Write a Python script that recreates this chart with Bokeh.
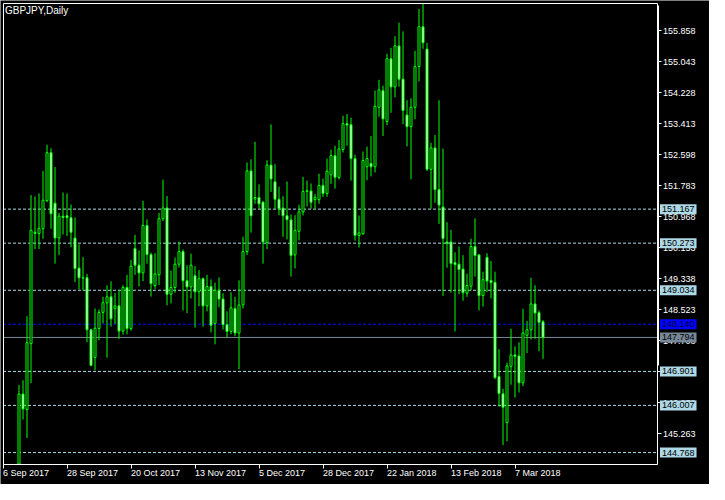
from bokeh.plotting import figure
from bokeh.models import (Range1d, FixedTicker, PrintfTickFormatter, Label,
                          LabelSet, ColumnDataSource, LinearAxis)
from bokeh.core.properties import value
from bokeh.embed import file_html
from bokeh.resources import INLINE

symbol_title = "GBPJPY,Daily"

bar_index = list(range(4, 136))
opens = [144.20, 146.306, 145.899, 147.631, 150.560, 150.524, 150.652, 151.390, 152.649, 151.324,
         150.407, 150.983, 150.993, 150.942, 150.407, 149.617, 149.363, 149.363, 147.995, 147.264,
         148.028, 148.453, 148.700, 148.861, 148.548, 148.624, 147.962, 149.108, 148.028, 150.127,
         149.694, 149.490, 150.738, 149.974, 149.159, 149.440, 150.916, 151.197, 148.930, 149.108,
         149.719, 150.050, 149.286, 149.123, 149.414, 148.996, 149.337, 148.624, 149.133, 148.165,
         149.032, 148.802, 148.130, 147.952, 148.550, 147.911, 148.649, 150.050, 152.172, 151.433,
         151.472, 151.349, 150.295, 152.325, 151.884, 151.426, 151.197, 150.993, 150.881, 149.964,
         150.585, 151.095, 151.630, 151.645, 151.416, 151.416, 151.790, 151.579, 152.070, 152.572,
         152.002, 152.732, 153.413, 153.387, 152.496, 150.473, 150.516, 152.282, 152.368, 152.282,
         153.846, 154.279, 153.471, 155.119, 154.380, 155.458, 154.584, 153.642, 153.336, 153.846,
         154.915, 155.960, 155.374, 152.215, 152.776, 151.681, 151.222, 150.305, 150.305, 149.760,
         149.719, 149.592, 148.955, 149.141, 150.185, 149.964, 148.894, 149.898, 149.294, 149.243,
         146.765, 146.314, 145.557, 147.035, 147.333, 147.307, 146.602, 147.850, 147.995, 148.675,
         148.446, 148.206]
highs = [146.543, 146.670, 148.352, 151.536, 151.503, 151.579, 152.172, 152.860, 152.766, 152.274,
         151.069, 151.604, 151.579, 151.288, 150.949, 150.244, 149.905, 149.465, 148.020, 148.555,
         148.530, 148.861, 149.167, 149.268, 148.963, 149.047, 149.167, 149.439, 149.829, 150.491,
         150.083, 151.383, 150.899, 150.025, 150.007, 151.069, 151.943, 151.510, 149.549, 149.898,
         150.313, 150.109, 149.694, 149.999, 149.668, 149.566, 149.370, 149.439, 149.319, 149.235,
         149.370, 148.955, 148.479, 148.980, 148.861, 149.294, 150.440, 152.394, 152.478, 152.936,
         151.816, 151.375, 152.452, 153.395, 152.350, 151.757, 151.510, 151.892, 151.026, 151.008,
         151.281, 152.012, 151.918, 151.841, 151.561, 152.096, 151.968, 152.496, 152.732, 152.834,
         152.987, 153.624, 153.667, 153.573, 152.597, 151.000, 152.682, 152.809, 153.089, 154.286,
         154.566, 154.414, 155.254, 155.407, 155.713, 156.069, 155.840, 154.031, 154.082, 155.331,
         156.426, 156.579, 155.534, 152.911, 153.115, 154.031, 152.758, 150.822, 150.618, 150.033,
         150.185, 149.956, 149.472, 150.389, 150.924, 149.989, 149.523, 150.007, 149.803, 149.523,
         147.485, 146.441, 147.129, 148.020, 147.562, 147.664, 148.548, 148.224, 149.363, 149.167,
         148.504, 148.250]
lows = [144.05, 145.634, 145.150, 146.594, 150.117, 150.117, 150.389, 151.350, 150.652, 149.735,
        149.964, 150.499, 150.458, 150.168, 149.251, 149.057, 149.032, 147.671, 147.035, 146.933,
        147.722, 148.165, 147.264, 148.079, 148.148, 147.758, 147.868, 147.875, 147.969, 149.439,
        149.133, 149.276, 149.735, 148.868, 149.072, 149.174, 150.855, 148.639, 148.690, 148.970,
        149.633, 148.504, 148.435, 148.818, 148.054, 148.614, 148.079, 148.479, 147.926, 147.613,
        148.588, 148.003, 147.791, 147.875, 147.824, 146.958, 148.555, 149.964, 150.550, 151.306,
        151.179, 149.735, 150.117, 151.619, 151.179, 151.008, 150.440, 150.371, 149.396, 149.607,
        150.346, 151.000, 151.238, 151.179, 151.179, 151.306, 151.484, 151.492, 151.833, 151.706,
        151.943, 152.656, 152.834, 151.917, 150.338, 150.160, 150.491, 151.925, 152.027, 152.129,
        153.598, 153.089, 153.369, 153.700, 154.108, 154.388, 153.402, 152.817, 151.951, 153.530,
        154.523, 155.382, 152.172, 151.179, 151.332, 150.779, 148.886, 149.625, 148.970, 147.952,
        148.930, 148.759, 148.861, 149.032, 149.396, 148.504, 148.606, 148.988, 148.818, 146.696,
        145.975, 144.964, 145.066, 146.551, 146.212, 146.347, 146.518, 147.384, 147.740, 147.758,
        147.434, 147.231]
closes = [146.306, 145.914, 147.656, 150.611, 150.530, 150.662, 151.401, 152.649, 151.044, 150.407,
          150.983, 150.950, 150.942, 150.560, 149.607, 149.363, 149.355, 147.995, 147.060, 148.038,
          148.453, 148.708, 148.861, 148.283, 148.624, 147.962, 149.108, 148.028, 149.668, 149.694,
          149.490, 150.738, 149.974, 149.210, 149.465, 150.916, 151.197, 148.930, 149.108, 149.719,
          150.050, 149.286, 149.123, 149.694, 148.996, 149.337, 148.624, 149.133, 148.115, 149.032,
          148.802, 148.130, 147.952, 148.573, 147.911, 148.649, 150.050, 152.172, 150.993, 151.472,
          151.306, 150.305, 152.325, 151.961, 151.426, 151.179, 150.993, 150.891, 149.948, 150.611,
          151.095, 151.630, 151.650, 151.349, 151.477, 151.790, 151.579, 152.164, 152.572, 152.002,
          152.750, 153.413, 153.377, 152.496, 150.478, 150.542, 152.445, 152.496, 152.282, 153.871,
          154.304, 153.540, 155.119, 154.380, 155.458, 154.584, 153.759, 153.336, 153.846, 154.915,
          155.960, 155.542, 152.215, 152.776, 151.681, 151.273, 150.397, 150.269, 149.735, 149.709,
          149.582, 148.970, 149.159, 150.185, 149.948, 148.894, 149.312, 149.276, 149.235, 146.739,
          146.321, 145.957, 147.045, 147.333, 147.299, 146.602, 147.911, 147.995, 148.675, 148.435,
          148.191, 147.794]

date_ticks = [0, 16, 32, 48, 64, 80, 96, 112, 128]
date_labels = ["6 Sep 2017", "28 Sep 2017", "20 Oct 2017", "13 Nov 2017", "5 Dec 2017",
               "28 Dec 2017", "22 Jan 2018", "13 Feb 2018", "7 Mar 2018"]
price_ticks = [155.858, 155.043, 154.228, 153.413, 152.598, 151.783, 150.968, 150.153,
               149.338, 148.523, 147.708, 146.893, 146.078, 145.263]
level_prices = [151.167, 150.273, 149.034, 146.901, 146.007, 144.768]
ask_price = 148.140
bid_price = 147.794

# ---- layout (pixels) ----
W, H = 709, 484
BAR_PX = 4.0                    # pixels per daily bar
LEFT_PX, RIGHT_PX = 2.5, 656.5  # chart border columns
TOP_PX, BOTTOM_PX = 2.5, 463.5  # chart border rows
p_top, p_bottom = 156.586, 144.467   # prices at the top / bottom border
bar_top, bar_bottom = 156.528, 147.053  # extent of the heavy strip on the right border

x_cs = 0.0                                  # bar index at left border
x_ce = x_cs + (RIGHT_PX - LEFT_PX) / BAR_PX  # bar index at right border
x0 = x_cs - LEFT_PX / BAR_PX
x1 = x0 + W / BAR_PX
ppu = (BOTTOM_PX - TOP_PX) / (p_top - p_bottom)
y1 = p_top + TOP_PX / ppu
y0 = p_bottom - (H - BOTTOM_PX) / ppu

FONT = "Liberation Sans"
GREEN = "#00FF00"
LEVEL = "#ADD8E6"

p = figure(width=W, height=H, output_backend="svg", toolbar_location=None,
           x_range=Range1d(x0, x1), y_range=Range1d(y0, y1),
           x_axis_type=None, y_axis_type=None,
           min_border_left=0, min_border_top=0, min_border_right=0, min_border_bottom=0,
           background_fill_color="black", border_fill_color="black")
p.grid.visible = False
p.outline_line_color = None

def border_axis(**kw):
    ax = LinearAxis(**kw)
    ax.axis_line_color = "white"
    ax.axis_line_width = 1
    ax.major_tick_line_color = None
    ax.minor_tick_line_color = None
    ax.major_label_text_color = None
    return ax

# left and top chart borders
p.add_layout(border_axis(fixed_location=x_cs, bounds=(p_bottom, p_top)), "left")
p.add_layout(border_axis(fixed_location=p_top, bounds=(x_cs, x_ce)), "above")
# heavier strip on the upper part of the right border
p.add_layout(border_axis(fixed_location=x_ce + 1 / BAR_PX, bounds=(bar_bottom, bar_top)), "right")

# bottom date axis
xa = border_axis(fixed_location=p_bottom, bounds=(x_cs, x_ce))
xa.ticker = FixedTicker(ticks=date_ticks)
xa.major_tick_line_color = "white"
xa.major_tick_out = 4
xa.major_tick_in = 0
p.add_layout(xa, "below")

# right price axis
ya = border_axis(fixed_location=x_ce, bounds=(p_bottom, p_top))
ya.ticker = FixedTicker(ticks=price_ticks)
ya.formatter = PrintfTickFormatter(format="%.3f")
ya.major_tick_line_color = "white"
ya.major_tick_out = 4
ya.major_tick_in = 0
ya.major_label_standoff = 2
ya.major_label_text_color = "white"
ya.major_label_text_font = FONT
ya.major_label_text_font_size = "9px"
p.add_layout(ya, "right")

# horizontal price levels across the chart
n = len(level_prices)
p.segment(x0=[x_cs] * n, x1=[x_ce] * n, y0=level_prices, y1=level_prices,
          line_color=LEVEL, line_dash="3 2", line_width=1)
p.segment(x0=[x_cs], x1=[x_ce], y0=[ask_price], y1=[ask_price],
          line_color="#0000FF", line_dash="3 2", line_width=1)
p.segment(x0=[x_cs], x1=[x_ce], y0=[bid_price], y1=[bid_price],
          line_color="#778899", line_width=1)

# candles
tops = [max(o, c) for o, c in zip(opens, closes)]
bottoms = [min(o, c) for o, c in zip(opens, closes)]
fills = ["black" if c >= o else "white" for o, c in zip(opens, closes)]
wick_lo = [max(l, p_bottom) for l in lows]
body_lo = [max(b, p_bottom) for b in bottoms]
src = ColumnDataSource(dict(x=bar_index, h=highs, l=wick_lo, top=tops, bottom=body_lo, fill=fills))
p.segment(x0="x", y0="h", x1="x", y1="l", source=src, line_color=GREEN, line_width=1)
p.vbar(x="x", width=0.5, top="top", bottom="bottom", source=src,
       fill_color="fill", line_color=GREEN, line_width=1)

# title inside the chart
p.add_layout(Label(x=x_cs, y=p_top, x_offset=2, y_offset=-2, text=symbol_title,
                   text_baseline="top", text_align="left", text_color="white",
                   text_font=FONT, text_font_size="10px"))

# date labels, left-aligned at their ticks
dsrc = ColumnDataSource(dict(k=date_ticks, lab=date_labels))
p.add_layout(LabelSet(x="k", y=p_bottom, y_offset=-4, text="lab", source=dsrc,
                      text_align="left", text_baseline="top", text_color="white",
                      text_font=value(FONT), text_font_size="9px"))

# price boxes on the right scale
boxes = [(lv, LEVEL, "black") for lv in level_prices]
boxes += [(ask_price, "#0000FF", "#000033"), (bid_price, "#778899", "black")]
for pr, bg, fg in boxes:
    p.add_layout(Label(x=x_ce, y=pr, x_offset=3, text=f"{pr:.3f}",
                       text_baseline="middle", text_align="left", text_color=fg,
                       text_font=FONT, text_font_size="9px",
                       background_fill_color=bg, padding=2))

open("out.html", "w").write(file_html(p, INLINE))
